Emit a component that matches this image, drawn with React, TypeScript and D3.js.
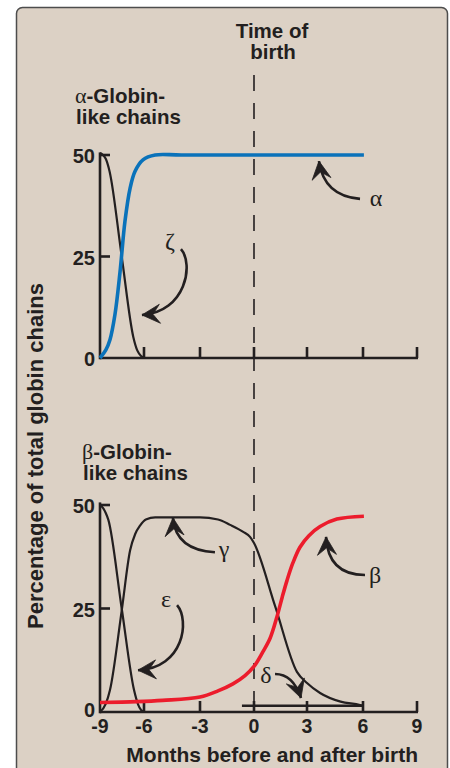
import React from 'react';
import * as d3 from 'd3';

// ---- Data (months relative to birth, percentage of total globin chains) ----
const monthTicks = [-9, -6, -3, 0, 3, 6, 9];
const percentTicks = [0, 25, 50];

// alpha-globin-like chains
const alphaSeries: [number, number][] = [
  [-9, 0], [-8.6, 2], [-8.32, 4.5], [-7.98, 10.7], [-7.64, 21], [-7.3, 33.6],
  [-6.95, 41.8], [-6.61, 46], [-6.07, 48.8], [-5.4, 50], [-4, 50], [6.05, 50],
];
const zetaSeries: [number, number][] = [
  [-9, 50.5], [-8.8, 50], [-8.6, 49], [-8.35, 46], [-7.52, 25], [-6.73, 5.2],
  [-6.45, 1.8], [-6.2, 0.5], [-5.95, 0],
];

// beta-globin-like chains
const epsilonSeries: [number, number][] = [
  [-9, 50], [-8.8, 49.3], [-8.6, 48], [-8.43, 46.4], [-7.52, 25], [-6.68, 5.3],
  [-6.4, 1.8], [-6.2, 0.5], [-5.95, 0],
];
const gammaSeries: [number, number][] = [
  [-9, 0], [-8.6, 2], [-8.32, 5.3], [-7.52, 24.5], [-6.95, 39], [-6.6, 43],
  [-6.27, 45], [-5.9, 46.5], [-5.4, 47], [-3, 47], [-2, 46.5], [-1.33, 45.2],
  [-0.6, 43.5], [-0.22, 42.3], [0, 40.8], [1.2, 25.5], [2.43, 9.7], [3.0, 7],
  [3.7, 4.6], [4.8, 2.5], [5.84, 1.7], [6, 1.5],
];
const betaSeries: [number, number][] = [
  [-9, 2.3], [-6.5, 2.5], [-5, 2.8], [-3, 3.6], [-2, 5.1], [-1.17, 6.8],
  [-0.5, 8.8], [0, 11], [0.5, 14.5], [0.91, 17.8], [1.3, 23], [1.6, 27.8],
  [1.87, 31.8], [2.2, 36], [2.6, 39.8], [3.1, 42.6], [3.7, 44.8], [4.6, 46.6], [6.05, 47.3],
];
const deltaSeries: [number, number][] = [[-0.67, 1.5], [6, 1.5]];

// annotation arrows (start, control(s), tip) in data units
const arrowAlpha: [number, number][] = [[5.84, 39.2], [3.91, 39.9], [3.64, 48.5]];
const arrowZeta: [number, number][] = [[-4.02, 26.8], [-3.32, 23.2], [-3.75, 11.3], [-6.14, 10.6]];
const arrowGamma: [number, number][] = [[-2.17, 38.6], [-4.29, 39.1], [-4.45, 46.9]];
const arrowBeta: [number, number][] = [[6.11, 33.1], [4.125, 33.1], [4.02, 42.3]];
const arrowEpsilon: [number, number][] = [[-4.23, 25.8], [-3.54, 22.2], [-3.86, 10.6], [-6.41, 10.1]];
const arrowDelta: [number, number][] = [[1.19, 9.18], [2.21, 9.18], [2.66, 3.38]];

// greek labels [month, percent]
const labelAlpha: [number, number] = [6.72, 37.4];
const labelZeta: [number, number] = [-4.61, 26.8];
const labelGamma: [number, number] = [-1.67, 37.4];
const labelBeta: [number, number] = [6.67, 31.2];
const labelEpsilon: [number, number] = [-4.82, 25.4];
const labelDelta: [number, number] = [0.68, 7.0];

const W = 450;
const H = 768;
const BLACK = '#231f20';
const BLUE = '#0a72ba';
const RED = '#ec1c2c';
const SANS = '"Liberation Sans", Arial, Helvetica, sans-serif';
const SERIF = '"Liberation Serif", "Times New Roman", serif';

const x = d3.scaleLinear().domain(monthTicks).range([100, 144, 200, 254, 307, 363, 417]);
const yTop = d3.scaleLinear().domain([0, 50]).range([358, 155]);
const yBot = d3.scaleLinear().domain([0, 50]).range([712, 505]);

type Scale = d3.ScaleLinear<number, number>;

function linePath(data: [number, number][], y: Scale, smooth = false) {
  return d3
    .line<[number, number]>()
    .x((d) => x(d[0]))
    .y((d) => y(d[1]))
    .curve(smooth ? d3.curveCatmullRom.alpha(0.5) : d3.curveMonotoneX)(data) as string;
}

function Arrow({ pts, y }: { pts: [number, number][]; y: Scale }) {
  const p = pts.map((d) => [x(d[0]), y(d[1])]);
  const path = d3.path();
  path.moveTo(p[0][0], p[0][1]);
  if (p.length === 3) path.quadraticCurveTo(p[1][0], p[1][1], p[2][0], p[2][1]);
  else path.bezierCurveTo(p[1][0], p[1][1], p[2][0], p[2][1], p[3][0], p[3][1]);
  const tip = p[p.length - 1];
  const prev = p[p.length - 2];
  let dx = tip[0] - prev[0];
  let dy = tip[1] - prev[1];
  const len = Math.hypot(dx, dy);
  dx /= len;
  dy /= len;
  const nx = -dy;
  const ny = dx;
  const L = 18;
  const Wd = 9.5;
  const N = 11;
  const bx = tip[0] - dx * L;
  const by = tip[1] - dy * L;
  const head = `M${tip[0]},${tip[1]} L${bx + nx * Wd},${by + ny * Wd} L${tip[0] - dx * N},${tip[1] - dy * N} L${bx - nx * Wd},${by - ny * Wd} Z`;
  return (
    <g>
      <path d={path.toString()} fill="none" stroke={BLACK} strokeWidth={2.6} />
      <path d={head} fill={BLACK} stroke={BLACK} strokeWidth={0.8} strokeLinejoin="round" />
    </g>
  );
}

function Greek({ ch, pos, y }: { ch: string; pos: [number, number]; y: Scale }) {
  return (
    <text x={x(pos[0])} y={y(pos[1])} textAnchor="middle" fontFamily={SERIF} fontSize={24} fill={BLACK}>
      {ch}
    </text>
  );
}

function Axes({ y }: { y: Scale }) {
  const y0 = y(0);
  return (
    <g stroke={BLACK} strokeWidth={2.6} fill="none">
      <line x1={x(-9)} x2={x(-9)} y1={y(50) - 1.3} y2={y0} strokeLinecap="square" />
      <line x1={x(-9)} x2={x(9) + 1} y1={y0} y2={y0} />
      {percentTicks.filter((t) => t > 0).map((t) => (
        <line key={t} x1={x(-9)} x2={x(-9) + 10} y1={y(t)} y2={y(t)} />
      ))}
      {monthTicks.filter((t) => t > -9).map((t) => (
        <line key={t} x1={x(t)} x2={x(t)} y1={y0} y2={y0 - 11} />
      ))}
    </g>
  );
}

function YLabels({ y, zeroShift }: { y: Scale; zeroShift: number }) {
  return (
    <g fontFamily={SANS} fontWeight="bold" fontSize={20} fill={BLACK} textAnchor="end">
      {percentTicks.map((t) => (
        <text key={t} x={95} y={y(t) + (t === 0 ? zeroShift : 8)}>
          {t}
        </text>
      ))}
    </g>
  );
}

export default function App() {
  return (
    <div style={{ position: 'absolute', left: 0, top: 0 }}>
      <svg width={W} height={H} viewBox={`0 0 ${W} ${H}`} style={{ display: 'block' }}>
        <rect x={0} y={0} width={W} height={H} fill="#ffffff" />
        <rect x={16.5} y={7.5} width={431} height={800} rx={6} fill="#dcd1c5" stroke="#4d4d4d" strokeWidth={1.5} />

        {/* birth line */}
        <line x1={x(0)} x2={x(0)} y1={75} y2={yBot(0)} stroke={BLACK} strokeWidth={1.6} strokeDasharray="16 12" />

        {/* titles */}
        <g fontFamily={SANS} fontWeight="bold" fontSize={20.5} fill={BLACK}>
          <text x={272} y={38} textAnchor="middle">Time of</text>
          <text x={273} y={59} textAnchor="middle">birth</text>
          <text x={75} y={103}>
            <tspan fontFamily={SERIF} fontWeight="normal" fontSize={22}>α</tspan>-Globin-
          </text>
          <text x={76} y={124}>like chains</text>
          <text x={82} y={458.5}>
            <tspan fontFamily={SERIF} fontWeight="normal" fontSize={22}>β</tspan>-Globin-
          </text>
          <text x={83} y={479.5}>like chains</text>
          <text x={418} y={762} textAnchor="end" fontSize={21}>Months before and after birth</text>
          <text transform="translate(43,456) rotate(-90)" textAnchor="middle" fontSize={22}>
            Percentage of total globin chains
          </text>
        </g>

        {/* top panel */}
        <Axes y={yTop} />
        <YLabels y={yTop} zeroShift={8} />
        <path d={linePath(zetaSeries, yTop)} fill="none" stroke={BLACK} strokeWidth={2.2} />
        <path d={linePath(alphaSeries, yTop, true)} fill="none" stroke={BLUE} strokeWidth={3.6} />
        <Arrow pts={arrowAlpha} y={yTop} />
        <Arrow pts={arrowZeta} y={yTop} />
        <Greek ch="α" pos={labelAlpha} y={yTop} />
        <Greek ch="ζ" pos={labelZeta} y={yTop} />

        {/* bottom panel */}
        <Axes y={yBot} />
        <YLabels y={yBot} zeroShift={4.5} />
        <path d={linePath(deltaSeries, yBot)} fill="none" stroke={BLACK} strokeWidth={2.6} />
        <path d={linePath(epsilonSeries, yBot)} fill="none" stroke={BLACK} strokeWidth={2.2} />
        <path d={linePath(gammaSeries, yBot)} fill="none" stroke={BLACK} strokeWidth={2.2} />
        <path d={linePath(betaSeries, yBot, true)} fill="none" stroke={RED} strokeWidth={3.6} />
        <Arrow pts={arrowGamma} y={yBot} />
        <Arrow pts={arrowBeta} y={yBot} />
        <Arrow pts={arrowEpsilon} y={yBot} />
        <Arrow pts={arrowDelta} y={yBot} />
        <Greek ch="γ" pos={labelGamma} y={yBot} />
        <Greek ch="β" pos={labelBeta} y={yBot} />
        <Greek ch="ε" pos={labelEpsilon} y={yBot} />
        <Greek ch="δ" pos={labelDelta} y={yBot} />

        {/* x tick labels */}
        <g fontFamily={SANS} fontWeight="bold" fontSize={19.5} fill={BLACK} textAnchor="middle">
          {monthTicks.map((t) => (
            <text key={t} x={x(t)} y={733}>
              {t}
            </text>
          ))}
        </g>
      </svg>
    </div>
  );
}
